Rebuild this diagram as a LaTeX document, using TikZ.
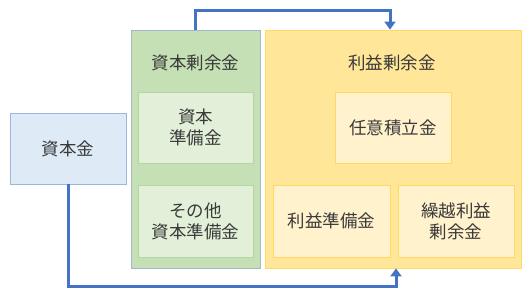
\documentclass[tikz,border=0pt]{standalone}
\usepackage{fontspec}
\setmainfont{Noto Sans CJK JP}
\usetikzlibrary{arrows.meta}
\definecolor{bluefill}{HTML}{DEEBF7}
\definecolor{bluedraw}{HTML}{9DB4DC}
\definecolor{gfill}{HTML}{C5E0B4}
\definecolor{gdraw}{HTML}{A3B7C9}
\definecolor{gin}{HTML}{E2F0D9}
\definecolor{gindraw}{HTML}{B5D6A0}
\definecolor{yfill}{HTML}{FFE699}
\definecolor{ydraw}{HTML}{FFD966}
\definecolor{yin}{HTML}{FFF2CC}
\definecolor{arrowc}{HTML}{4472C4}
\definecolor{txt}{HTML}{3A3A3A}
\tikzset{
  box/.style={rectangle, inner sep=0pt, line width=0.8pt, text=txt, align=center,
    font=\fontsize{17.5}{21}\selectfont},
  conn/.style={arrowc, line width=3pt, -{Triangle[length=8pt,width=11pt]}}
}
\begin{document}
\begin{tikzpicture}[x=1pt,y=-1pt]
\useasboundingbox (0,0) rectangle (530,298);
% capital
\node[box, fill=bluefill, draw=bluedraw, minimum width=116pt, minimum height=71pt] (cap) at (68,148.5) {資本金};
% capital surplus
\node[box, fill=gfill, draw=gdraw, minimum width=129pt, minimum height=238pt] (cs) at (195.5,149) {};
\node[box] (cst) at (195.5,63) {資本剰余金};
\node[box, fill=gin, draw=gindraw, minimum width=115pt, minimum height=71pt] (cr) at (195.5,127.5) {資本\\準備金};
\node[box, fill=gin, draw=gindraw, minimum width=115pt, minimum height=72pt] (ocr) at (195.5,221) {その他\\資本準備金};
% retained earnings
\node[box, fill=yfill, draw=ydraw, minimum width=256pt, minimum height=238pt] (re) at (393,149) {};
\node[box] (ret) at (392,63) {利益剰余金};
\node[box, fill=yin, draw=ydraw, minimum width=116pt, minimum height=71pt] (vol) at (393,127.5) {任意積立金};
\node[box, fill=yin, draw=ydraw, minimum width=117pt, minimum height=72pt] (lr) at (331.5,221) {利益準備金};
\node[box, fill=yin, draw=ydraw, minimum width=116pt, minimum height=72pt] (cf) at (456,221) {繰越利益\\剰余金};
% connectors
\coordinate (t1) at (195,10);
\coordinate (t2) at (390,10);
\draw[conn] (cs.north -| t1) -- (t1) -- (t2) -- (re.north -| t2);
\coordinate (b1) at (68,286);
\coordinate (b2) at (396,286);
\draw[conn] (cap.south) -- (b1) -- (b2) -- (re.south -| b2);
\end{tikzpicture}
\end{document}
